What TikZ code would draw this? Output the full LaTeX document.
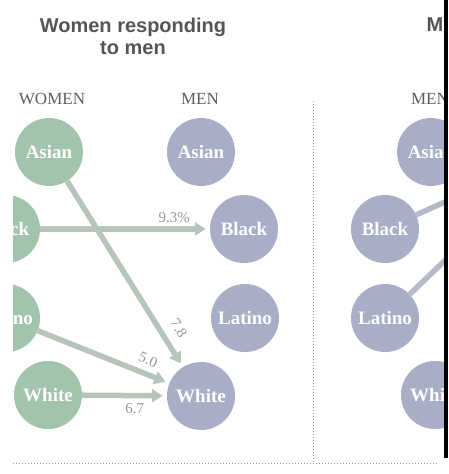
\documentclass[tikz,border=0pt]{standalone}
\usepackage{fontspec}
\setmainfont{Liberation Serif}
\setsansfont{Liberation Sans}
\usetikzlibrary{arrows.meta}
\definecolor{womenfill}{RGB}{163,196,172}
\definecolor{menfill}{RGB}{167,174,198}
\definecolor{flowcol}{RGB}{182,197,186}
\definecolor{menflow}{RGB}{182,186,200}
\definecolor{labcol}{RGB}{150,150,150}
\definecolor{headcol}{RGB}{95,95,95}
\definecolor{titlecol}{RGB}{85,85,85}
\definecolor{dotcol}{RGB}{150,150,150}

\begin{document}
\begin{tikzpicture}
		[x=1pt, y=-1pt,
		women/.style={circle, fill=womenfill, minimum size=68pt, inner sep=0pt, text=white, font=\bfseries\fontsize{19}{19}\selectfont},
		men/.style={women, fill=menfill},
		flow/.style={line width=5.5pt, draw=flowcol, -{Triangle[length=11pt,width=13pt]}, shorten >=4pt},
		share/.style={text=labcol, font=\fontsize{15}{15}\selectfont, inner sep=1pt},
		head/.style={text=headcol, font=\fontsize{17}{17}\selectfont},
		title/.style={text=titlecol, font=\sffamily\bfseries\fontsize{20}{22}\selectfont, align=center}]
		\useasboundingbox (0,0) rectangle (448,474);
		\begin{scope}
		\clip (13,0) rectangle (444,474);
		% headings
		\node[title] (ttl) at (133,36) {Women responding\\to men};
		\node[title, anchor=west] (ttlR) at (423,25) {M};
		\node[head] (hW) at (52,99) {WOMEN};
		\node[head] (hM) at (200,99) {MEN};
		\node[head] (hMR) at (430,99) {MEN};

		% left panel
		\node[women] (wA) at (49,152) {Asian};
		\node[women] (wB) at (6,229) {Black};
		\node[women] (wL) at (6,318) {Latino};
		\node[women] (wW) at (48,395) {White};
		\node[men] (mA) at (201,152) {Asian};
		\node[men] (mB) at (244,229) {Black};
		\node[men] (mL) at (245,318) {Latino};
		\node[men] (mW) at (201,396) {White};

		\draw[flow] (wB) -- node[share, pos=0.79, above=3pt] (sBB) {9.3\%} (mB);
		\draw[flow] (wA) -- node[share, pos=0.84, sloped, above=8pt] (sAW) {7.8} (mW);
		\draw[flow] (wL) -- node[share, pos=0.80, sloped, above=5pt] (sLW) {5.0} (mW);
		\draw[flow] (wW) -- node[share, pos=0.62, below=4pt] (sWW) {6.7} (mW);

		% right panel
		\node[men] (rA) at (431,152) {Asian};
		\node[men] (rB) at (385,229) {Black};
		\node[men] (rL) at (385,318) {Latino};
		\node[men] (rW) at (435,395) {White};
		\coordinate (rOut) at (560,150);
		\draw[flow, draw=menflow] (rB) -- (rOut);
		\draw[flow, draw=menflow] (rL) -- (rOut);

		% separators
		\draw[dotcol, line width=1pt, dotted] (313,101) -- (313,463);
		\draw[dotcol, line width=1pt, dotted] (13,463) -- (438,463);
		\end{scope}
		\fill[black] (444,0) rectangle (448,458);
	\end{tikzpicture}
\end{document}
